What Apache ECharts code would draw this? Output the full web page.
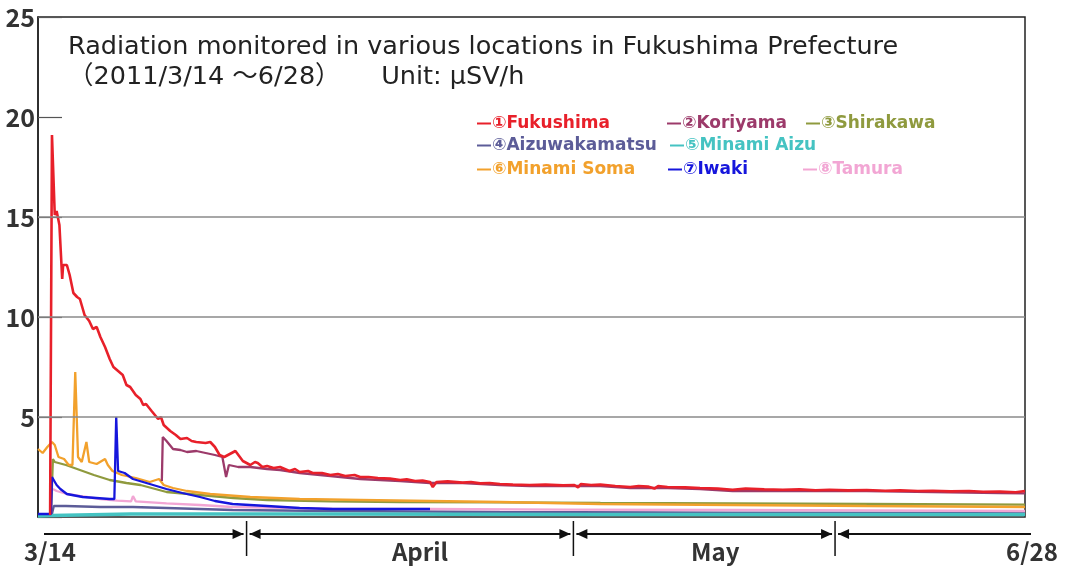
<!DOCTYPE html>
<html>
<head>
<meta charset="utf-8">
<script src="https://cdn.jsdelivr.net/npm/echarts@6/dist/echarts.min.js"></script>
<style>
  html, body { margin: 0; padding: 0; background: #fff; }
  #chart { width: 1065px; height: 570px; }
</style>
</head>
<body>
<div id="chart"></div>
<script>
// x = position along the period 3/14 .. 6/28 (0 .. 106), y = μSv/h
const periodEnd = 106
const monthMarks = [22.4, 57.5, 85.6]          // April / May boundaries as drawn
const periodLabels = ['3/14', 'April', 'May', '6/28']

const fukushima = [[1.3,0.1],[1.5,19.1],[1.8,15.1],[2.0,15.3],[2.3,14.6],[2.6,11.9],[2.7,12.6],[3.1,12.6],[3.4,12.1],[3.8,11.2],[4.2,11.0],[4.5,10.9],[5.0,10.1],[5.5,9.8],[5.9,9.4],[6.3,9.5],[6.7,9.0],[7.2,8.5],[7.7,7.9],[8.1,7.5],[8.6,7.3],[9.1,7.1],[9.5,6.6],[9.9,6.5],[10.5,6.1],[11.0,5.9],[11.3,5.6],[11.6,5.65],[12.2,5.3],[12.9,4.9],[13.2,5.0],[13.5,4.6],[14.2,4.3],[14.8,4.1],[15.3,3.9],[16.0,3.95],[16.5,3.8],[17.0,3.75],[18.0,3.7],[18.5,3.75],[19.0,3.5],[19.5,3.1],[20.0,3.0],[20.6,3.15],[21.2,3.3],[22.0,2.8],[22.8,2.6],[23.3,2.75],[23.6,2.7],[24.1,2.5],[24.6,2.55],[25.3,2.45],[26.0,2.5],[27.0,2.3],[27.6,2.4],[28.1,2.25],[29.0,2.3],[29.5,2.2],[30.5,2.2],[31.4,2.1],[32.2,2.15],[33.0,2.05],[34.0,2.1],[34.6,2.0],[35.5,2.0],[36.5,1.95],[37.8,1.92],[38.9,1.85],[39.6,1.88],[40.5,1.8],[41.3,1.82],[42.1,1.75],[42.4,1.5],[42.8,1.75],[44.0,1.78],[45.6,1.72],[46.5,1.75],[47.5,1.68],[48.5,1.7],[49.6,1.65],[51.0,1.62],[52.8,1.6],[54.5,1.62],[56.4,1.58],[57.6,1.6],[58.0,1.48],[58.3,1.65],[59.4,1.6],[60.4,1.62],[62.0,1.55],[63.6,1.5],[64.5,1.55],[65.5,1.52],[66.2,1.42],[66.6,1.55],[67.6,1.5],[69.5,1.48],[71.1,1.45],[73.0,1.42],[74.6,1.36],[76.0,1.42],[78.0,1.38],[80.0,1.36],[81.8,1.38],[83.5,1.34],[85.0,1.36],[87.0,1.33],[89.0,1.35],[91.0,1.31],[92.6,1.33],[94.5,1.3],[96.1,1.31],[98.0,1.28],[100.0,1.3],[101.5,1.26],[103.3,1.27],[105.0,1.24],[106,1.3]]
const koriyama = [[13.3,1.8],[13.4,4.0],[13.8,3.8],[14.5,3.4],[15.3,3.35],[16.0,3.25],[17.0,3.3],[18.0,3.2],[19.0,3.1],[19.8,3.0],[20.2,2.0],[20.5,2.6],[21.5,2.5],[22.8,2.5],[24.6,2.4],[26.0,2.35],[28.1,2.2],[31.4,2.05],[34.6,1.9],[38.9,1.8],[42.1,1.7],[45.6,1.7],[49.6,1.6],[52.8,1.55],[56.4,1.55],[60.4,1.55],[63.6,1.45],[67.6,1.45],[71.1,1.4],[74.6,1.3],[81.8,1.3],[89.0,1.3],[96.1,1.25],[103.3,1.2],[106,1.18]]
const shirakawa = [[1.4,0.2],[1.6,2.9],[1.8,2.75],[3.0,2.6],[4.5,2.35],[6.0,2.1],[7.7,1.85],[9.5,1.7],[11.0,1.6],[13.8,1.25],[17.4,1.1],[21.0,0.95],[24.6,0.85],[31.4,0.78],[38.9,0.75],[49.6,0.73],[60.4,0.7],[74.6,0.68],[89.0,0.65],[106,0.62]]
const aizuwakamatsu = [[1.5,0.15],[1.7,0.55],[3.0,0.55],[6.7,0.5],[10.2,0.5],[13.8,0.45],[20.9,0.35],[31.6,0.3],[49.6,0.25],[74.6,0.22],[106,0.2]]
const minamiAizu = [[0,0.05],[1.5,0.08],[1.7,0.15],[10,0.15],[30,0.15],[60,0.13],[106,0.12]]
const minamiSoma = [[0,3.4],[0.5,3.2],[1.0,3.5],[1.5,3.75],[1.8,3.6],[2.2,3.0],[2.8,2.9],[3.3,2.6],[3.7,2.6],[4.0,7.25],[4.3,3.0],[4.7,2.75],[5.2,3.75],[5.5,2.75],[6.3,2.65],[7.2,2.9],[7.5,2.6],[8.0,2.3],[9.0,2.1],[10.5,1.95],[12.0,1.75],[13.0,1.9],[13.5,1.6],[14.5,1.45],[16.0,1.3],[18.5,1.15],[22.8,1.0],[28.1,0.9],[34.6,0.85],[42.1,0.8],[49.6,0.75],[60.4,0.65],[74.6,0.6],[89.0,0.55],[106,0.5]]
const iwaki = [[0,0.15],[1.4,0.15],[1.5,2.0],[1.7,1.95],[2.0,1.6],[2.4,1.4],[3.1,1.15],[4.8,1.0],[7.7,0.9],[8.2,0.9],[8.4,5.0],[8.6,2.3],[9.3,2.2],[10.2,1.9],[12.0,1.65],[13.8,1.4],[15.5,1.2],[17.4,1.0],[19.0,0.8],[20.9,0.65],[24.6,0.55],[28.1,0.45],[31.6,0.4],[36.0,0.4],[42.1,0.4]]
const tamura = [[1.6,1.4],[2.0,1.3],[3.1,1.15],[4.5,1.05],[6.7,0.9],[8.5,0.82],[10.0,0.78],[10.2,1.05],[10.5,0.78],[13.8,0.68],[17.4,0.6],[20.9,0.5],[24.6,0.47],[31.6,0.42],[42.1,0.4],[56.4,0.37],[74.6,0.35],[89.0,0.33],[106,0.3]]

const FONT = '"Noto Sans CJK JP", sans-serif'
const WIDE = '"DejaVu Sans", "Noto Sans CJK JP", sans-serif'

const seriesList = [
  { name: '④Aizuwakamatsu', data: aizuwakamatsu, color: '#5c5c98', legend: [477, 137] },
  { name: '⑤Minami Aizu', data: minamiAizu, color: '#45c3c2', legend: [670, 137], width: 3.5 },
  { name: '⑧Tamura', data: tamura, color: '#f2a6d4', legend: [803, 161] },
  { name: '③Shirakawa', data: shirakawa, color: '#8f9a3e', legend: [806, 115] },
  { name: '⑥Minami Soma', data: minamiSoma, color: '#f2a12c', legend: [477, 161] },
  { name: '⑦Iwaki', data: iwaki, color: '#1616dc', legend: [668, 161] },
  { name: '②Koriyama', data: koriyama, color: '#9c3a6a', legend: [667, 115] },
  { name: '①Fukushima', data: fukushima, color: '#e8202a', legend: [477, 115], width: 2.6 }
]

const chart = echarts.init(document.getElementById('chart'))

const option = {
  animation: false,
  backgroundColor: '#fff',
  title: {
    text: 'Radiation monitored in various locations in Fukushima Prefecture\n（2011/3/14 ～6/28）     Unit: μSV/h',
    left: 63,
    top: 27,
    textStyle: { fontFamily: WIDE, fontSize: 25.5, fontWeight: 'normal', color: '#222', lineHeight: 30 }
  },
  legend: seriesList.map(s => ({
    data: [{ name: s.name, textStyle: { color: s.color } }],
    left: s.legend[0],
    top: s.legend[1],
    padding: 0,
    icon: 'rect',
    itemWidth: 14,
    itemHeight: 2,
    itemGap: 0,
    selectedMode: false,
    textStyle: { fontFamily: WIDE, fontSize: 17, fontWeight: 'bold', padding: [0, 0, 0, -4] }
  })),
  grid: {
    left: 38, right: 40, top: 17, bottom: 53,
    show: true, borderColor: '#222', borderWidth: 1.5
  },
  xAxis: {
    type: 'value', min: 0, max: periodEnd,
    axisLine: { show: false }, axisTick: { show: false },
    axisLabel: { show: false }, splitLine: { show: false }
  },
  yAxis: {
    type: 'value', min: 0, max: 25, interval: 5,
    axisLine: { show: true, lineStyle: { color: '#222', width: 1.5 } },
    axisTick: { show: true, inside: true, length: 24, lineStyle: { color: '#555', width: 1.2 } },
    axisLabel: {
      formatter: v => (v === 0 ? '' : v),
      fontFamily: FONT, fontSize: 25, fontWeight: 'bold', color: '#333', margin: 3
    },
    splitLine: { show: false }
  },
  series: seriesList.map((s, i) => ({
    name: s.name,
    type: 'line',
    data: s.data,
    symbol: 'none',
    color: s.color,
    lineStyle: { color: s.color, width: s.width || 2.3 },
    emphasis: { disabled: true },
    markLine: i === 0 ? {
      silent: true,
      symbol: 'none',
      label: { show: false },
      lineStyle: { color: '#8a8a8a', type: 'solid', width: 1.5 },
      data: [{ yAxis: 5 }, { yAxis: 10 }, { yAxis: 15 }]
    } : undefined
  }))
}

chart.setOption(option)

// period arrows under the plot
const px = v => chart.convertToPixel({ xAxisIndex: 0 }, v)
const yA = 534
const bounds = [px(0) + 6].concat(monthMarks.map(px)).concat([px(periodEnd) + 6])
const elems = []
const head = (x, dir) => ({
  type: 'polygon',
  shape: { points: [[x, yA], [x - dir * 11, yA - 5], [x - dir * 11, yA + 5]] },
  style: { fill: '#111' }
})
for (let i = 0; i < 4; i++) {
  const a = i === 0 ? bounds[0] : bounds[i] + 3
  const b = i === 3 ? bounds[4] : bounds[i + 1] - 3
  elems.push({ type: 'line', shape: { x1: a, y1: yA, x2: b, y2: yA }, style: { stroke: '#111', lineWidth: 2 } })
  if (i > 0) elems.push(head(a, -1))
  if (i < 3) elems.push(head(b, 1))
}
monthMarks.forEach(m => {
  elems.push({ type: 'line', shape: { x1: px(m), y1: 521, x2: px(m), y2: 556 }, style: { stroke: '#111', lineWidth: 1.5 } })
})
const labelX = [px(0) + 12, (px(monthMarks[0]) + px(monthMarks[1])) / 2 + 10,
  (px(monthMarks[1]) + px(monthMarks[2])) / 2 + 11, px(periodEnd) + 7]
periodLabels.forEach((t, i) => {
  elems.push({
    type: 'text', x: labelX[i], y: 552,
    style: { text: t, fontFamily: FONT, fontSize: 24, fontWeight: 'bold', fill: '#333', align: 'center', verticalAlign: 'middle' }
  })
})
chart.setOption({ graphic: elems })
</script>
</body>
</html>
